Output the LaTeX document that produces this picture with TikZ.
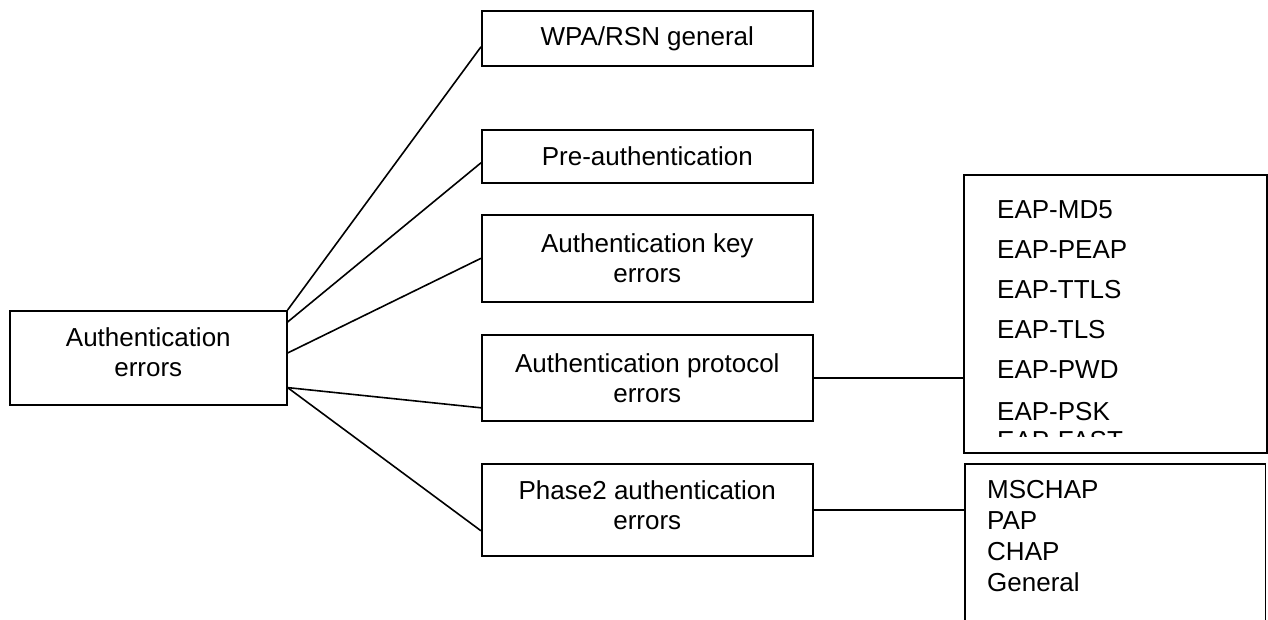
\documentclass[tikz,border=0pt]{standalone}
\usepackage{fontspec}
\setmainfont{Liberation Sans}
\begin{document}
\begin{tikzpicture}[x=1pt,y=-1pt,
  box/.style={draw, line width=1.6pt, inner sep=0pt, align=center,
    font=\fontsize{26}{30}\selectfont, anchor=north west},
  txt/.style={inner sep=0pt, align=center, font=\fontsize{26}{30}\selectfont},
  link/.style={line width=1.6pt},
  item/.style={anchor=base west, inner sep=0pt, font=\fontsize{26}{30}\selectfont}]
\useasboundingbox (0,0) rectangle (1268,619);

\node[box, minimum width=277pt, minimum height=94pt] (root) at (9,310) {};
\node[txt] (roottext) at ([yshift=6pt]root.center) {Authentication\\errors};
\node[box, minimum width=331pt, minimum height=55pt] (wpa) at (481,10) {WPA/RSN general};
\node[box, minimum width=331pt, minimum height=53pt] (pre) at (481,129) {Pre-authentication};
\node[box, minimum width=331pt, minimum height=87pt] (key) at (481,214) {Authentication key\\errors};
\node[box, minimum width=331pt, minimum height=86pt] (proto) at (481,334) {Authentication protocol\\errors};
\node[box, minimum width=331pt, minimum height=92pt] (ph2) at (481,463) {};
\node[txt] (ph2text) at ([yshift=5pt]ph2.center) {Phase2 authentication\\errors};
\node[box, minimum width=303pt, minimum height=278pt] (eap) at (963,174) {};
\node[inner sep=0pt, anchor=north west, minimum width=300pt, minimum height=160pt] (list) at (965,464) {};
\draw[line width=1.6pt] (list.south west) -- (list.north west) -- (list.north east) -- (list.south east);

\begin{scope}
  \clip (963,174) rectangle (1266,436);
  \node[item] (e1) at (997,218) {EAP-MD5};
  \node[item] (e2) at (997,258) {EAP-PEAP};
  \node[item] (e3) at (997,298) {EAP-TTLS};
  \node[item] (e4) at (997,338) {EAP-TLS};
  \node[item] (e5) at (997,378) {EAP-PWD};
  \node[item] (e6) at (997,420) {EAP-PSK};
  \node[item] (e7) at (997,449) {EAP-FAST};
\end{scope}

\node[item] (l1) at (987,498) {MSCHAP};
\node[item] (l2) at (987,529) {PAP};
\node[item] (l3) at (987,560) {CHAP};
\node[item] (l4) at (987,591) {General};

\draw[link] (root.north east) -- ([yshift=-8.5pt]wpa.west);
\draw[link] ([yshift=-12pt]root.north east) -- ([yshift=-6.5pt]pre.west);
\draw[link] ([yshift=-43pt]root.north east) -- (key.west);
\draw[link] ([yshift=18pt]root.south east) -- ([yshift=-30pt]proto.west);
\draw[link] ([yshift=18pt]root.south east) -- ([yshift=-21pt]ph2.west);
\draw[link] (proto.east) -- (proto.east -| eap.west);
\draw[link] (ph2.east) -- (ph2.east -| list.west);
\end{tikzpicture}
\end{document}
